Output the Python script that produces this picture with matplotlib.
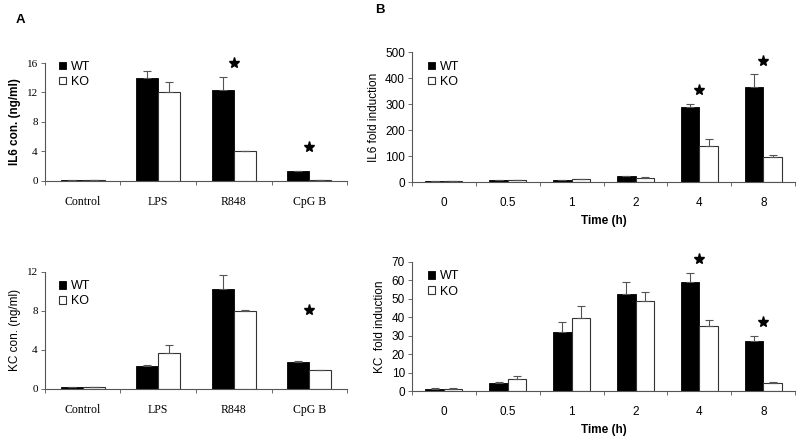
import numpy as np
import matplotlib.pyplot as plt

# --- données ---
stim = ['Control', 'LPS', 'R848', 'CpG B']
il6_wt = [0.1, 14.0, 12.3, 1.3]
il6_wt_err = [0.05, 0.9, 1.8, 0.1]
il6_ko = [0.1, 12.0, 4.0, 0.1]
il6_ko_err = [0.05, 1.4, 0.05, 0.05]
il6_star = {2: 16.0, 3: 4.6}

kc_wt = [0.2, 2.3, 10.2, 2.8]
kc_wt_err = [0.05, 0.2, 1.5, 0.1]
kc_ko = [0.2, 3.7, 8.0, 1.9]
kc_ko_err = [0.05, 0.8, 0.05, 0.05]
kc_star = {3: 8.1}

times = ['0', '0.5', '1', '2', '4', '8']
il6f_wt = [3, 7, 7, 22, 287, 367]
il6f_wt_err = [1, 1, 1, 1, 13, 47]
il6f_ko = [5, 9, 12, 17, 138, 95]
il6f_ko_err = [1, 1, 1, 1, 27, 11]
il6f_star = {4: 356, 5: 465}

kcf_wt = [1.0, 4.2, 32.0, 52.5, 59.2, 26.9]
kcf_wt_err = [0.5, 0.8, 5.3, 6.3, 4.5, 2.9]
kcf_ko = [1.0, 6.7, 39.5, 48.9, 35.0, 4.2]
kcf_ko_err = [0.5, 1.4, 6.5, 4.9, 3.4, 0.8]
kcf_star = {4: 71.3, 5: 37.5}

SERIF = 'Liberation Serif'
SANS = 'Liberation Sans'

fig = plt.figure(figsize=(8, 4.41), dpi=100)


def panel(rect, cats, wt, wte, ko, koe, stars, ylim, yticks, ylabel,
          ybold, tickfont, leg_y, xlabel=None):
    ax = fig.add_axes(rect)
    x = np.arange(len(cats))
    w = 0.29
    ax.bar(x - w/2, wt, w, color='black', edgecolor='black', lw=0.6, label='WT')
    ax.bar(x + w/2, ko, w, color='white', edgecolor='#333333', lw=0.8, label='KO')
    ax.errorbar(x - w/2, wt, yerr=[np.zeros(len(wt)), wte], fmt='none',
                ecolor='#555555', elinewidth=0.8, capsize=3, capthick=0.8)
    ax.errorbar(x + w/2, ko, yerr=[np.zeros(len(ko)), koe], fmt='none',
                ecolor='#555555', elinewidth=0.8, capsize=3, capthick=0.8)
    for i, ys in stars.items():
        ax.plot(i, ys, marker='*', color='black', ms=8, clip_on=False)
    ax.set_xlim(-0.5, len(cats) - 0.5)
    ax.set_ylim(*ylim)
    ax.set_yticks(yticks)
    ax.set_xticks(np.arange(len(cats) + 1) - 0.5)
    ax.set_xticklabels([])
    ax.set_xticks(x, minor=True)
    ax.set_xticklabels(cats, minor=True, family=tickfont, fontsize=8.5)
    ax.tick_params(axis='x', which='major', length=3, width=0.6, color='#555555')
    ax.tick_params(axis='x', which='minor', length=0, pad=11)
    ax.tick_params(axis='y', length=3, width=0.6, color='#555555', pad=2)
    for lab in ax.get_yticklabels():
        lab.set_family(tickfont)
        lab.set_fontsize(8 if tickfont == SERIF else 8.5)
    for s in ['top', 'right']:
        ax.spines[s].set_visible(False)
    for s in ['left', 'bottom']:
        ax.spines[s].set_linewidth(0.8)
        ax.spines[s].set_color('#555555')
    ax.set_ylabel(ylabel, family=SANS, fontsize=8.5,
                  fontweight='bold' if ybold else 'normal')
    if xlabel:
        ax.set_xlabel(xlabel, family=SANS, fontsize=8.5, fontweight='bold', labelpad=4)
    ax.legend(loc='upper left', bbox_to_anchor=(0.03, leg_y), frameon=False,
              prop={'family': SANS, 'size': 9}, handlelength=0.55, handleheight=0.55,
              handletextpad=0.4, labelspacing=0.25, borderaxespad=0)
    return ax


a1 = panel([0.056, 0.590, 0.378, 0.267], stim, il6_wt, il6_wt_err, il6_ko,
           il6_ko_err, il6_star, (0, 16), [0, 4, 8, 12, 16],
           'IL6 con. (ng/ml)', True, SERIF, 1.06)
a2 = panel([0.056, 0.118, 0.378, 0.266], stim, kc_wt, kc_wt_err, kc_ko,
           kc_ko_err, kc_star, (0, 12), [0, 4, 8, 12],
           'KC con. (ng/ml)', False, SERIF, 0.97)
b1 = panel([0.515, 0.587, 0.479, 0.295], times, il6f_wt, il6f_wt_err, il6f_ko,
           il6f_ko_err, il6f_star, (0, 500), np.arange(0, 501, 100),
           'IL6 fold induction', False, SANS, 0.97, 'Time (h)')
b2 = panel([0.515, 0.113, 0.479, 0.294], times, kcf_wt, kcf_wt_err, kcf_ko,
           kcf_ko_err, kcf_star, (0, 70), np.arange(0, 71, 10),
           'KC  fold induction', False, SANS, 0.97, 'Time (h)')

fig.text(0.019, 0.955, 'A', family=SANS, fontsize=9.5, fontweight='bold', va='center')
fig.text(0.469, 0.977, 'B', family=SANS, fontsize=9.5, fontweight='bold', va='center')

fig.savefig('out.png', dpi=100)
